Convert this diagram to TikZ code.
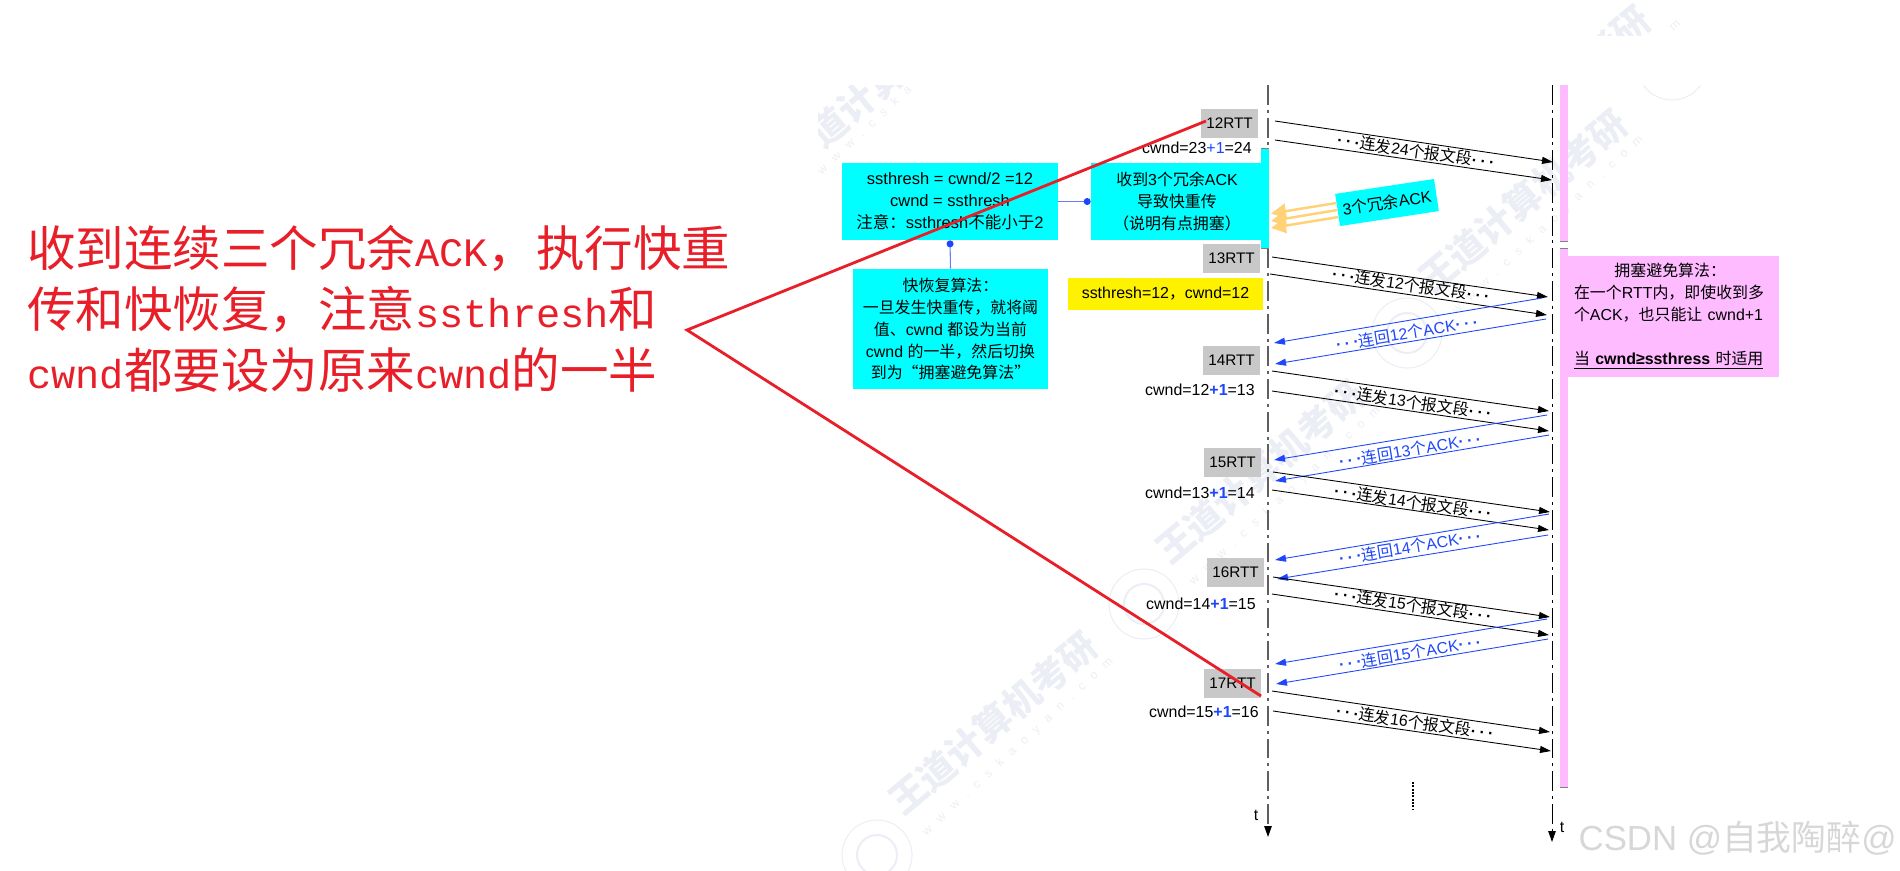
\documentclass[tikz,border=0pt]{standalone}
\usepackage{fontspec}
\usepackage{xcolor}
\usetikzlibrary{calc}
\usetikzlibrary{arrows.meta}
\setmainfont{Liberation Sans}
\newfontfamily\zhfont{Noto Sans CJK SC}
\newfontfamily\redlat[Scale=0.832]{Liberation Mono}
\newfontfamily\urlfont[LetterSpace=80]{Liberation Sans}
\newcommand{\zh}[1]{{\zhfont #1}}
\newcommand{\rl}[1]{{\redlat #1}}
\newcommand{\plusone}{{\color{ackblue}\textbf{+1}}}
\newcommand{\tridots}{\textbf{·}\hspace{1.9pt}\textbf{·}\hspace{1.9pt}\textbf{·}}
\newcommand{\wmark}[3]{
  \node[wmtext] (#1Name) at (#2,#3) {王道计算机考研};
  \node[wmurl] (#1Url) at ($(#1Name)+(25,24)$) {www.cskaoyan.com};
  \draw[wmseal] ($(#1Name)+(-116,132)$) circle (35);
  \draw[wmseal,line width=1.2pt] ($(#1Name)+(-116,132)$) circle (20);
}
\definecolor{ackblue}{RGB}{30,70,250}
\definecolor{redmark}{RGB}{232,30,40}
\definecolor{cyanbox}{RGB}{0,255,255}
\definecolor{pinkbox}{RGB}{255,187,255}
\definecolor{rttgray}{RGB}{200,200,200}
\definecolor{axisgray}{RGB}{95,95,95}
\definecolor{ackorange}{RGB}{255,210,120}
\definecolor{csdngray}{RGB}{215,215,215}
\definecolor{wmgray}{RGB}{236,238,245}
\tikzset{
  body/.style={font=\fontsize{9.07pt}{12.47pt}\selectfont,inner sep=0pt},
  rttbox/.style={body,font=\fontsize{8.7pt}{12.47pt}\selectfont,fill=rttgray,minimum width=1.14cm,minimum height=0.58cm},
  cyanfill/.style={body,fill=cyanbox,align=center},
  axisline/.style={-{Triangle[length=0.22cm,width=0.15cm,black]},dash pattern=on 11.3pt off 2.8pt on 1.7pt off 2.8pt},
  send/.style={-{Triangle[length=0.22cm,width=0.14cm]},line width=0.5pt,black},
  ack/.style={-{Triangle[length=0.22cm,width=0.14cm]},line width=0.5pt,ackblue},
  sendlabel/.style={body,rotate=-8.3},
  acklabel/.style={body,rotate=9.4,text=ackblue},
  note/.style={-{Circle[length=0.14cm,ackblue]},line width=0.6pt,ackblue!70!white},
  threeack/.style={-{Triangle[length=0.3cm,width=0.3cm]},line width=1.4pt,ackorange},
  edgetick/.style={line width=0.5pt,gray},
  wmtext/.style={inner sep=0pt,rotate=40,text=wmgray,font=\fontsize{21pt}{24pt}\selectfont\zhfont\bfseries},
  wmurl/.style={inner sep=0pt,rotate=43,text=wmgray,font=\fontsize{7pt}{9pt}\selectfont\urlfont},
  wmseal/.style={line width=0.6pt,draw=wmgray},
}
\begin{document}
\begin{tikzpicture}[x=0.02cm,y=-0.02cm]
\useasboundingbox (0,0) rectangle (1900,870);

\begin{scope}
\clip (818,85) rectangle (1900,870);
\node[wmtext] (markEName) at (857,103) {道计算};
\node[wmurl] (markEUrl) at (864,130) {www.cska};
\wmark{markA}{993}{723}
\wmark{markB}{1260}{472}
\wmark{markC}{1523}{201}
\draw[wmseal] (1672,65) circle (35);
\end{scope}
\begin{scope}
\clip (1500,0) rectangle (1700,35);
\node[wmtext] (markFName) at (1617,38) {考研};
\node[wmurl] (markFUrl) at (1675,26) {m};
\end{scope}

\coordinate (leftTop) at (1268,85);
\coordinate (leftEnd) at (1268,837);
\coordinate (rightTop) at (1552,85);
\coordinate (rightEnd) at (1552,842);
\draw[axisline,line width=0.7pt,draw=axisgray] (leftTop) -- (leftEnd);
\draw[axisline,line width=0.55pt,draw=black] (rightTop) -- (rightEnd);
\node[body] (tLeft) at (1256,815) {t};
\node[body] (tRight) at (1562,827) {t};

\fill[pinkbox] (1560,85) rectangle (1567.5,241);
\fill[pinkbox] (1560,248) rectangle (1567.5,787);
\draw[edgetick] (1560,241) -- (1568,241);
\draw[edgetick] (1560,248) -- (1568,248);
\draw[edgetick] (1560,787) -- (1568,787);
\node[body,fill=pinkbox,text width=3.96cm,inner xsep=0.14cm,minimum height=2.42cm,align=left] (avoidBox) at (1673,316.5) {\hspace*{23pt}\zh{拥塞避免算法：}\\
\zh{在一个}RTT\zh{内，即使收到多}\\
\zh{个}ACK\zh{，也只能让} cwnd+1\\[12.75pt]
\underline{\zh{当} \textbf{cwnd≥ssthress} \zh{时适用}}};

\fill[cyanbox] (1261,148) rectangle (1269,248);
\draw[edgetick] (1261,148) -- (1269,148);
\draw[edgetick] (1261,248) -- (1269,248);
\node[cyanfill,minimum width=3.56cm,minimum height=1.54cm] (retransBox) at (1180,201.5) {\hspace*{-3.4pt}\zh{收到}3\zh{个冗余}ACK\\\hspace*{-3.4pt}\zh{导致快重传}\\\hspace*{-3.4pt}\zh{（说明有点拥塞）}};
\node[cyanfill,font=\fontsize{9.4pt}{12.47pt}\selectfont,minimum width=4.32cm,minimum height=1.54cm] (ssthreshBox) at (950,201.5) {ssthresh = cwnd/2 =12\\cwnd = ssthresh\\\zh{注意：}ssthresh\zh{不能小于}2};
\node[cyanfill,minimum width=3.9cm,minimum height=2.4cm] (recoverBox) at (950.5,329) {\zh{快恢复算法：}\\\zh{一旦发生快重传，就将阈}\\\zh{值、}cwnd \zh{都设为当前}\\cwnd \zh{的一半，然后切换}\\\zh{到为“拥塞避免算法”}};
\draw[note] (ssthreshBox.east) -- (retransBox.west);
\draw[note] (recoverBox.north) -- (ssthreshBox.south);

\node[rttbox] (rtt12) at (1229.5,123.5) {12RTT};
\node[rttbox] (rtt13) at (1231.5,258.5) {13RTT};
\node[rttbox] (rtt14) at (1231.5,360.5) {14RTT};
\node[rttbox] (rtt15) at (1232.5,462.5) {15RTT};
\node[rttbox] (rtt16) at (1235.5,572.5) {16RTT};
\node[rttbox] (rtt17) at (1232.5,683.5) {17RTT};

\node[body,anchor=east] (cwnd12) at (1252,148) {cwnd=23{\color{ackblue}+1}=24};
\node[body,fill=yellow,minimum width=3.9cm,minimum height=0.64cm] (cwnd13) at (1165.5,294) {ssthresh=12\zh{，}cwnd=12};
\node[body,anchor=east] (cwnd14) at (1255,390) {cwnd=12\plusone=13};
\node[body,anchor=east] (cwnd15) at (1255,493) {cwnd=13\plusone=14};
\node[body,anchor=east] (cwnd16) at (1256,604) {cwnd=14\plusone=15};
\node[body,anchor=east] (cwnd17) at (1259,712) {cwnd=15\plusone=16};

\coordinate (s12a) at (1275,121); \coordinate (r12a) at (1553,162); \draw[send] (s12a) -- (r12a);
\coordinate (s12b) at (1275,140); \coordinate (r12b) at (1552,180); \draw[send] (s12b) -- (r12b);
\node[sendlabel] (send24) at (1416,151) {\tridots\zh{连发}24\zh{个报文段}\tridots};

\node[body,fill=cyanbox,rotate=8.6,minimum width=2cm,minimum height=0.65cm] (ackBox) at (1387,202.5) {3\zh{个冗余}ACK};
\coordinate (orangeA) at (1271,213.5);
\coordinate (orangeB) at (1271,221);
\coordinate (orangeC) at (1271,228);
\draw[threeack] ($(ackBox.west)+(-1,-7)$) -- (orangeA);
\draw[threeack] (ackBox.west) -- (orangeB);
\draw[threeack] ($(ackBox.west)+(1,7)$) -- (orangeC);

\coordinate (s13a) at (1272,257); \coordinate (r13a) at (1548,297); \draw[send] (s13a) -- (r13a);
\coordinate (s13b) at (1270,274); \coordinate (r13b) at (1547,315); \draw[send] (s13b) -- (r13b);
\node[sendlabel] (send12) at (1411,285) {\tridots\zh{连发}12\zh{个报文段}\tridots};
\coordinate (b12a) at (1542,298); \coordinate (a12a) at (1274,343); \draw[ack] (b12a) -- (a12a);
\coordinate (b12b) at (1546,319); \coordinate (a12b) at (1275,364); \draw[ack] (b12b) -- (a12b);
\node[acklabel] (ack12) at (1407,333) {\tridots\zh{连回}12\zh{个}ACK\tridots};

\coordinate (s14a) at (1272,371); \coordinate (r14a) at (1549,411); \draw[send] (s14a) -- (r14a);
\coordinate (s14b) at (1272,391); \coordinate (r14b) at (1549,431); \draw[send] (s14b) -- (r14b);
\node[sendlabel] (send13) at (1413,402) {\tridots\zh{连发}13\zh{个报文段}\tridots};
\coordinate (b13a) at (1547,415); \coordinate (a13a) at (1274,460); \draw[ack] (b13a) -- (a13a);
\coordinate (b13b) at (1549,435); \coordinate (a13b) at (1275,481); \draw[ack] (b13b) -- (a13b);
\node[acklabel] (ack13) at (1410,450) {\tridots\zh{连回}13\zh{个}ACK\tridots};

\coordinate (s15a) at (1273,472); \coordinate (r15a) at (1550,512); \draw[send] (s15a) -- (r15a);
\coordinate (s15b) at (1272,490); \coordinate (r15b) at (1549,530); \draw[send] (s15b) -- (r15b);
\node[sendlabel] (send14) at (1413,502) {\tridots\zh{连发}14\zh{个报文段}\tridots};
\coordinate (b14a) at (1549,514); \coordinate (a14a) at (1275,560); \draw[ack] (b14a) -- (a14a);
\coordinate (b14b) at (1548,535); \coordinate (a14b) at (1277,579); \draw[ack] (b14b) -- (a14b);
\node[acklabel] (ack14) at (1410,547) {\tridots\zh{连回}14\zh{个}ACK\tridots};

\coordinate (s16a) at (1273,577); \coordinate (r16a) at (1550,617); \draw[send] (s16a) -- (r16a);
\coordinate (s16b) at (1272,594); \coordinate (r16b) at (1549,635); \draw[send] (s16b) -- (r16b);
\node[sendlabel] (send15) at (1413,605) {\tridots\zh{连发}15\zh{个报文段}\tridots};
\coordinate (b15a) at (1547,619); \coordinate (a15a) at (1275,664); \draw[ack] (b15a) -- (a15a);
\coordinate (b15b) at (1548,639); \coordinate (a15b) at (1276,684); \draw[ack] (b15b) -- (a15b);
\node[acklabel] (ack15) at (1410,653) {\tridots\zh{连回}15\zh{个}ACK\tridots};

\coordinate (s17a) at (1272,691); \coordinate (r17a) at (1550,732); \draw[send] (s17a) -- (r17a);
\coordinate (s17b) at (1273,711); \coordinate (r17b) at (1551,751); \draw[send] (s17b) -- (r17b);
\node[sendlabel] (send16) at (1415,722) {\tridots\zh{连发}16\zh{个报文段}\tridots};

\coordinate (moreTop) at (1413,782);
\coordinate (moreEnd) at (1413,810);
\draw[line width=0.8pt,dash pattern=on 1.1pt off 0.8pt] (moreTop) -- (moreEnd);

\node[anchor=west,inner sep=0pt,text=redmark,align=left,font=\fontsize{27.6pt}{34.87pt}\selectfont\zhfont] (redNote) at (27,309) {收到连续三个冗余\rl{ACK}，执行快重\\
传和快恢复，注意\rl{ssthresh}和\\
\rl{cwnd}都要设为原来\rl{cwnd}的一半};
\coordinate (redApex) at (687,330);
\coordinate (redTop) at (1206,121);
\coordinate (redEnd) at (1261,696);
\draw[redmark,line width=1.6pt] (redTop) -- (redApex) -- (redEnd);

\node[anchor=east,inner sep=0pt,text=csdngray,font=\fontsize{19.8pt}{24pt}\selectfont] (csdnMark) at (1897,838) {CSDN @\zh{自我陶醉}@};
\end{tikzpicture}
\end{document}
